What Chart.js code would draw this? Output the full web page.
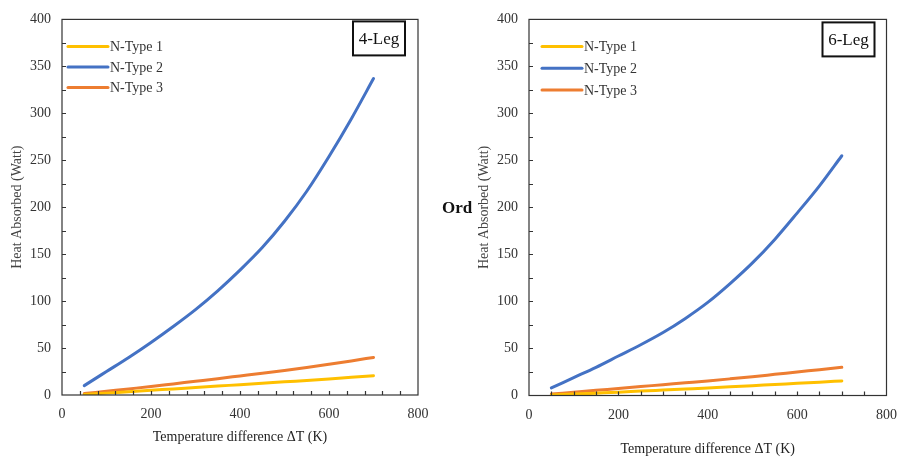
<!DOCTYPE html>
<html>
<head>
<meta charset="utf-8">
<script src="https://cdn.jsdelivr.net/npm/chart.js@4.4.1/dist/chart.umd.min.js"></script>
<style>
  html, body { margin: 0; padding: 0; background: #fff; }
  body { width: 908px; height: 459px; position: relative; overflow: hidden; }
  .panel { position: absolute; top: 0; }
  #left { left: 0; }
  #right { left: 454px; }
  #ord { position: absolute; left: 442px; top: 198px; font: bold 17px "Liberation Serif"; color: #111; }
</style>
</head>
<body>
<div class="panel" id="left"><canvas id="leg4" width="445" height="459"></canvas></div>
<div class="panel" id="right"><canvas id="leg6" width="454" height="459"></canvas></div>
<div id="ord">Ord</div>
<script>
// temperature difference (K)
const deltaT = [50, 100, 150, 200, 250, 300, 350, 400, 450, 500, 550, 600, 650, 700];

// 4-Leg, heat absorbed (W)
const leg4Type1 = [0.5, 2, 3.5, 5, 6.5, 8, 9.5, 11, 12.5, 14, 15.5, 17, 18.8, 20.5];
const leg4Type2 = [10, 25, 40, 56, 73, 91, 111, 133, 157, 185, 217, 254, 294, 337];
const leg4Type3 = [1.5, 4, 6.5, 9, 11.8, 14.6, 17.4, 20.3, 23.2, 26.2, 29.4, 32.8, 36.3, 40];

// 6-Leg, heat absorbed (W)
const leg6Type1 = [0.5, 1.5, 2.5, 3.5, 4.7, 5.8, 6.9, 8, 9.2, 10.5, 11.7, 13, 14.2, 15.5];
const leg6Type2 = [8, 19, 30, 42, 54, 67, 82, 99, 119, 141, 166, 194, 223, 255];
const leg6Type3 = [1.5, 3.5, 5.5, 7.5, 9.5, 11.5, 13.5, 15.5, 17.7, 20, 22.5, 25, 27.5, 30];

const seriesNames = ['N-Type 1', 'N-Type 2', 'N-Type 3'];
const seriesColors = ['#FFC000', '#4472C4', '#ED7D31'];

Chart.defaults.font.family = '"Liberation Serif", "Times New Roman", serif';
Chart.defaults.font.size = 14;
Chart.defaults.color = '#333';

// frame, inner ticks, legend and the leg tag
const panelPlugin = {
  id: 'panel',
  afterDraw(chart, args, o) {
    const { ctx, chartArea: a, scales: { x, y } } = chart;
    ctx.save();
    ctx.strokeStyle = '#333';
    ctx.lineWidth = 1.2;
    ctx.strokeRect(a.left, a.top, a.right - a.left, a.bottom - a.top);

    ctx.beginPath();
    for (let v = o.minorX; v < x.max; v += o.minorX) {
      const px = Math.round(x.getPixelForValue(v)) + 0.5;
      ctx.moveTo(px, a.bottom);
      ctx.lineTo(px, a.bottom - 4);
    }
    for (let v = 25; v < y.max; v += 25) {
      const py = Math.round(y.getPixelForValue(v)) + 0.5;
      ctx.moveTo(a.left, py);
      ctx.lineTo(a.left + 4, py);
    }
    ctx.stroke();

    // legend
    ctx.font = '14px "Liberation Serif"';
    ctx.textBaseline = 'middle';
    ctx.fillStyle = '#333';
    ctx.lineCap = 'round';
    chart.data.datasets.forEach((ds, i) => {
      const ly = a.top + o.legendTop + i * o.legendGap;
      ctx.strokeStyle = ds.borderColor;
      ctx.lineWidth = 3;
      ctx.beginPath();
      ctx.moveTo(a.left + o.legendX, ly);
      ctx.lineTo(a.left + o.legendX + 40, ly);
      ctx.stroke();
      ctx.fillText(ds.label, a.left + o.legendX + 42, ly + 1);
    });

    // tag box
    const bw = 52, bh = 34;
    const bx = a.right - o.tagRight - bw, by = a.top + o.tagTop;
    ctx.fillStyle = '#fff';
    ctx.fillRect(bx, by, bw, bh);
    ctx.strokeStyle = '#111';
    ctx.lineWidth = 2;
    ctx.lineCap = 'butt';
    ctx.strokeRect(bx, by, bw, bh);
    ctx.fillStyle = '#111';
    ctx.font = '17px "Liberation Serif"';
    ctx.textAlign = 'center';
    ctx.fillText(o.tag, bx + bw / 2, by + bh / 2 + 1);
    ctx.restore();
  }
};

function buildChart(id, series, o) {
  const datasets = seriesNames.map((name, i) => ({
    label: name,
    data: deltaT.map((t, k) => ({ x: t, y: series[i][k] })),
    borderColor: seriesColors[i],
    backgroundColor: seriesColors[i],
    borderWidth: 3,
    borderCapStyle: 'round',
    pointRadius: 0,
    cubicInterpolationMode: 'monotone',
    fill: false
  }));

  return new Chart(document.getElementById(id), {
    type: 'line',
    data: { datasets },
    options: {
      responsive: false,
      animation: false,
      layout: { padding: { top: 15, right: o.padRight, bottom: 0, left: 0 } },
      plugins: {
        legend: { display: false },
        tooltip: { enabled: false },
        panel: o.panel
      },
      scales: {
        x: {
          type: 'linear', min: 0, max: 800,
          ticks: { stepSize: 200, padding: 11, color: '#333' },
          grid: { display: false, drawTicks: false },
          border: { display: false },
          title: { display: true, text: 'Temperature difference ΔT (K)', color: '#222',
                   padding: { top: 0, bottom: o.xTitlePad } },
          afterFit: s => { s.height = o.xAxisHeight; }
        },
        y: {
          min: 0, max: 400,
          ticks: { stepSize: 50, padding: 11, color: '#333' },
          grid: { display: false, drawTicks: false },
          border: { display: false },
          title: { display: true, text: 'Heat Absorbed (Watt)', color: '#444',
                   padding: { top: o.yTitlePad, bottom: 0 } },
          afterFit: s => { s.width = o.yAxisWidth; }
        }
      }
    },
    plugins: [panelPlugin]
  });
}

buildChart('leg4', [leg4Type1, leg4Type2, leg4Type3], {
  padRight: 27, xAxisHeight: 64, xTitlePad: 13, yAxisWidth: 62, yTitlePad: 8.5,
  panel: { minorX: 40, legendTop: 27, legendGap: 20.5, legendX: 6, tag: '4-Leg', tagRight: 13, tagTop: 2 }
});

buildChart('leg6', [leg6Type1, leg6Type2, leg6Type3], {
  padRight: 11, xAxisHeight: 63.5, xTitlePad: 1, yAxisWidth: 75, yTitlePad: 21.5,
  panel: { minorX: 50, legendTop: 27, legendGap: 21.8, legendX: 13, tag: '6-Leg', tagRight: 12, tagTop: 3 }
});
</script>
</body>
</html>
